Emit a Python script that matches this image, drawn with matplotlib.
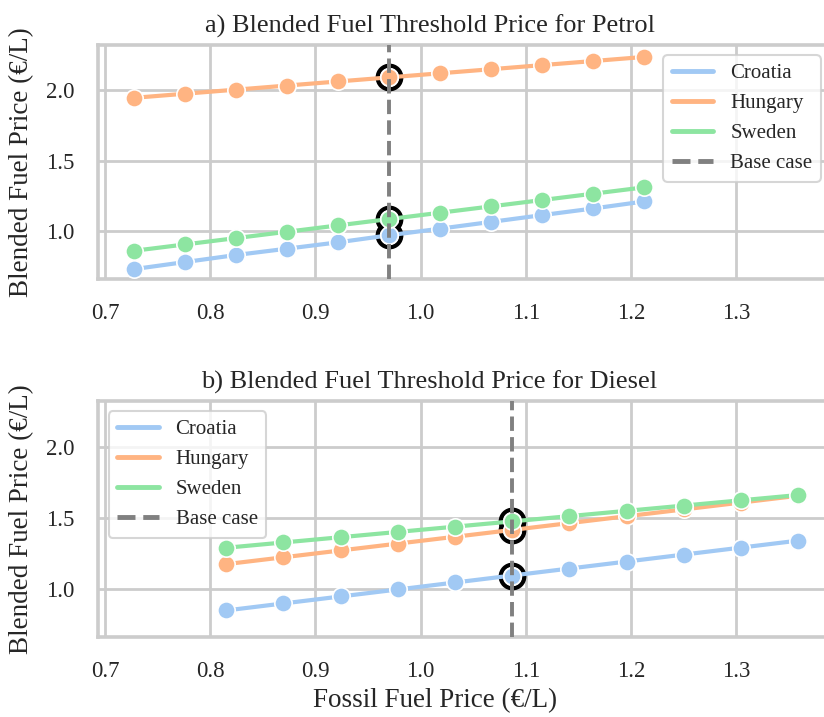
import matplotlib
matplotlib.use('Agg')

import matplotlib.pyplot as plt
import seaborn as sns
from matplotlib.lines import Line2D

# Data
countries = ['Croatia', 'Hungary', 'Sweden']

petrol_base = 0.97
petrol_x = [0.7275, 0.776, 0.8245, 0.873, 0.9215, 0.97, 1.0185, 1.067, 1.1155, 1.164, 1.2125]
petrol_croatia = [0.73, 0.78, 0.83, 0.875, 0.92, 0.97, 1.017, 1.065, 1.113, 1.16, 1.21]
petrol_hungary = [1.945, 1.974, 2.003, 2.032, 2.061, 2.09, 2.119, 2.148, 2.177, 2.206, 2.235]
petrol_sweden = [0.86, 0.905, 0.95, 0.995, 1.04, 1.085, 1.13, 1.175, 1.22, 1.265, 1.31]

diesel_base = 1.087
diesel_x = [0.8153, 0.8696, 0.924, 0.9783, 1.0327, 1.087, 1.1414, 1.1957, 1.2501, 1.3044, 1.3588]
diesel_croatia = [0.85, 0.899, 0.948, 0.997, 1.046, 1.095, 1.144, 1.193, 1.242, 1.291, 1.34]
diesel_hungary = [1.175, 1.223, 1.271, 1.319, 1.367, 1.415, 1.463, 1.511, 1.559, 1.607, 1.655]
diesel_sweden = [1.29, 1.327, 1.364, 1.401, 1.438, 1.475, 1.512, 1.549, 1.586, 1.623, 1.66]

x_ticks = [0.7, 0.8, 0.9, 1.0, 1.1, 1.2, 1.3]
y_ticks = [1.0, 1.5, 2.0]

sns.set_theme(style='whitegrid', context='talk')
plt.rcParams['font.family'] = ['Liberation Serif', 'DejaVu Serif']
plt.rcParams['grid.linewidth'] = 2.0
plt.rcParams['axes.linewidth'] = 2.6
colors = sns.color_palette('pastel')[:3]


def draw_panel(ax, title, x, series, base, legend_loc):
    base_idx = x.index(base)
    # black rings around the base case points (under the data)
    for ys in series:
        ax.plot(base, ys[base_idx], marker='o', ms=17, mfc='none', mec='black',
                mew=3, ls='none', zorder=2)
    for ys, c in zip(series, colors):
        ax.plot(x, ys, color=c, lw=3, zorder=3)
        ax.plot(x, ys, ls='none', marker='o', ms=12.5, mfc=c, mec='white',
                mew=1.2, zorder=3)
    ax.axvline(base, color='0.5', ls='--', lw=2.8, zorder=4)

    ax.set_xlim(0.6938, 1.39)
    ax.set_ylim(0.66, 2.32)
    ax.set_xticks(x_ticks)
    ax.set_yticks(y_ticks)
    ax.tick_params(labelsize=16.5, length=0, pad=17)
    ax.set_title(title, fontsize=19, x=0.452, pad=9)
    ax.set_ylabel('Blended Fuel Price (€/L)', fontsize=19.5, labelpad=9)

    handles = [Line2D([], [], color=c, lw=3.5) for c in colors]
    handles.append(Line2D([], [], color='0.5', ls='--', lw=3.5))
    ax.legend(handles, countries + ['Base case'], loc=legend_loc, fontsize=15)


fig = plt.figure(figsize=(8.24, 7.17), dpi=100)
ax1 = fig.add_axes([0.1195, 0.6109, 0.889, 0.3264])
ax2 = fig.add_axes([0.1195, 0.1109, 0.889, 0.3298])

draw_panel(ax1, 'a) Blended Fuel Threshold Price for Petrol', petrol_x,
           [petrol_croatia, petrol_hungary, petrol_sweden], petrol_base, 'upper right')
draw_panel(ax2, 'b) Blended Fuel Threshold Price for Diesel', diesel_x,
           [diesel_croatia, diesel_hungary, diesel_sweden], diesel_base, 'upper left')
ax2.set_xlabel('Fossil Fuel Price (€/L)', fontsize=19.5, x=0.46)

fig.savefig('out.png', dpi=100)
plt.close(fig)
